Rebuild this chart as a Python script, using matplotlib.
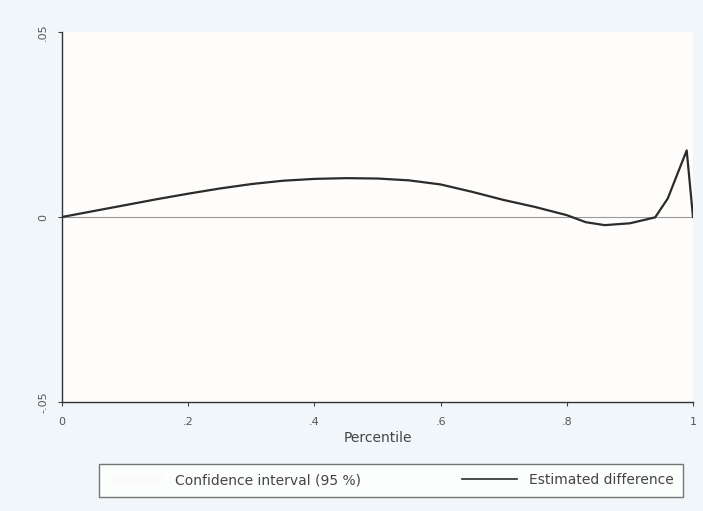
import matplotlib.pyplot as plt
import numpy as np
from matplotlib.lines import Line2D
from matplotlib.patches import Patch

# percentile grid and estimated difference
pct = [0.0, 0.05, 0.1, 0.15, 0.2, 0.25, 0.3, 0.35, 0.4, 0.45, 0.5, 0.55,
       0.6, 0.65, 0.7, 0.75, 0.8, 0.83, 0.86, 0.9, 0.94, 0.96, 0.975, 0.99, 1.0]
diff = [0.0, 0.0016, 0.0032, 0.0048, 0.0063, 0.0077, 0.0089, 0.0098, 0.0103,
        0.0105, 0.0104, 0.0099, 0.0088, 0.0068, 0.0046, 0.0027, 0.0005,
        -0.0014, -0.0022, -0.0017, -0.0001, 0.005, 0.0115, 0.018, 0.0]

xticks = [0, 0.2, 0.4, 0.6, 0.8, 1.0]
xlabels = ['0', '.2', '.4', '.6', '.8', '1']
yticks = [-0.05, 0, 0.05]
ylabels = ['-.05', '0', '.05']

fig = plt.figure(figsize=(7.03, 5.11), dpi=100)
fig.patch.set_facecolor('#f1f6fa')
ax = fig.add_axes([62 / 703, 1 - 402 / 511, (693 - 62) / 703, (402 - 32) / 511])
ax.set_facecolor('#fffdfb')

ax.axhline(0, color='#9a9a9a', lw=0.8)
ax.plot(pct, diff, color='#2b2b2b', lw=1.6)

ax.set_xlim(0, 1)
ax.set_ylim(-0.05, 0.05)
ax.set_xticks(xticks)
ax.set_xticklabels(xlabels, fontsize=8, color='#555555')
ax.set_yticks(yticks)
ax.set_yticklabels(ylabels, fontsize=8, color='#555555', rotation=90, va='center')
ax.tick_params(length=3, color='#444444')
ax.tick_params(axis='x', pad=8)
ax.tick_params(axis='y', pad=7)
ax.set_xlabel('Percentile', fontsize=10, color='#444444', labelpad=3)

for s in ['top', 'right']:
    ax.spines[s].set_visible(False)
for s in ['left', 'bottom']:
    ax.spines[s].set_color('#333333')
    ax.spines[s].set_linewidth(1.0)

handles = [Patch(facecolor='#fbfbfb', edgecolor='none'),
           Line2D([], [], color='#2b2b2b', lw=1.2)]
leg = fig.legend(handles, ['Confidence interval (95 %)', 'Estimated difference'],
                 loc='lower left',
                 bbox_to_anchor=(92 / 703, 7 / 511, (690 - 92) / 703, 35 / 511),
                 mode='expand', ncol=2, fontsize=10, frameon=True, fancybox=False,
                 handlelength=4.0, borderpad=0.7)
leg.get_frame().set_edgecolor('#555555')
leg.get_frame().set_facecolor('#ffffff')
for t in leg.get_texts():
    t.set_color('#444444')

fig.savefig('out.png', dpi=100, facecolor=fig.get_facecolor())
